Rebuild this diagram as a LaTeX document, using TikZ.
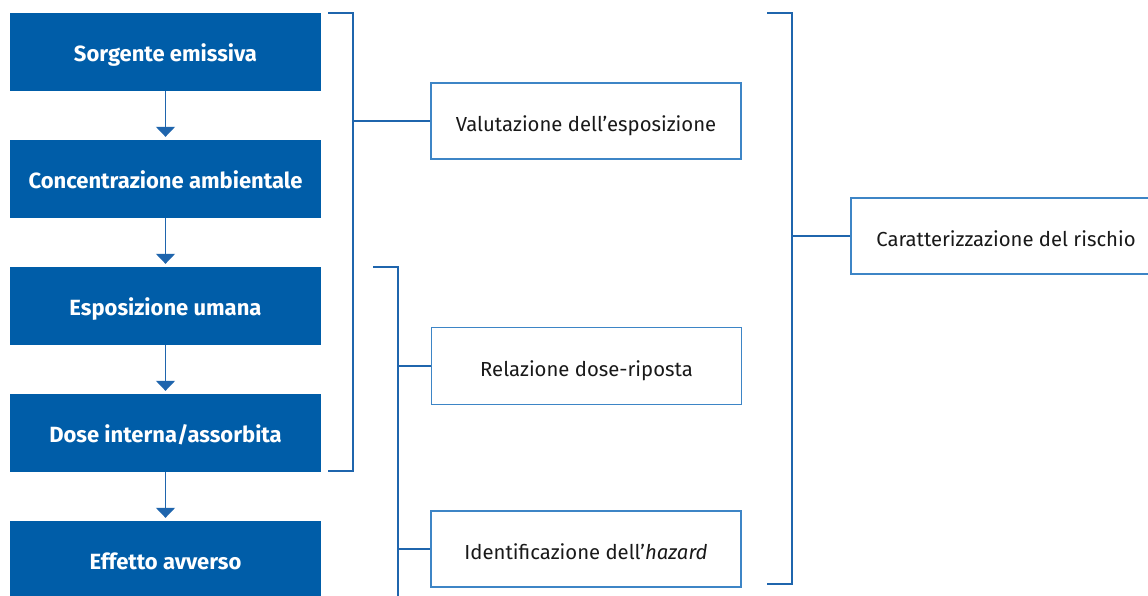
\documentclass[tikz,border=0pt]{standalone}
\usepackage{fontspec}
\setmainfont{Fira Sans}
\usetikzlibrary{arrows.meta,calc}
\definecolor{fillblue}{HTML}{005DA8}
\definecolor{lineblue}{HTML}{1F65AD}
\definecolor{edgeblue}{HTML}{3D85C6}
\tikzset{
  stepbox/.style={fill=fillblue,draw=none,minimum width=311pt,minimum height=78pt,inner sep=0pt,
    text height=18pt,text depth=0pt,
    text=white,font=\fontsize{22}{26}\selectfont\bfseries},
  labelbox/.style={draw=edgeblue,line width=1.4pt,fill=white,minimum width=310pt,minimum height=76pt,inner sep=0pt,
    text height=20pt,text depth=0pt,
    font=\fontsize{20.3}{24}\selectfont,text=black!90},
  flow/.style={draw=lineblue,line width=1.3pt,-{Triangle[width=19pt,length=10pt]}},
  brack/.style={draw=lineblue,line width=1.3pt}
}
\begin{document}
\begin{tikzpicture}[x=1pt,y=-1pt]
\clip (0,0) rectangle (1148,595);
\fill[white] (0,0) rectangle (1148,595);
% left chain
\node[stepbox] (s1) at (165.5,52) {Sorgente emissiva};
\node[stepbox] (s2) at (165.5,179) {Concentrazione ambientale};
\node[stepbox] (s3) at (165.5,306) {Esposizione umana};
\node[stepbox] (s4) at (165.5,433) {Dose interna/assorbita};
\node[stepbox] (s5) at (165.5,560) {Effetto avverso};
\draw[flow] (s1.south) -- ([yshift=3pt]s2.north);
\draw[flow] (s2.south) -- ([yshift=3pt]s3.north);
\draw[flow] (s3.south) -- ([yshift=3pt]s4.north);
\draw[flow] (s4.south) -- ([yshift=3pt]s5.north);
% right boxes
\node[labelbox] (val) at (586,121) {Valutazione dell’esposizione};
\node[labelbox,minimum height=77pt] (rel) at (586.5,366) {Relazione dose-riposta};
\node[labelbox] (idf) at (586,549) {Identificazione dell’\textit{hazard}};
\node[labelbox] (car) at (1006,236) {Caratterizzazione del rischio};
% bracket 1
\coordinate (b1a) at (328,13);
\coordinate (b1b) at (353,13);
\coordinate (b1c) at (353,471);
\coordinate (b1d) at (328,471);
\coordinate (b1m) at (353,121);
\draw[brack] (b1a) -- (b1b) -- (b1c) -- (b1d);
\draw[brack] (b1m) -- (val.west);
% bracket 2
\coordinate (b2a) at (373,267);
\coordinate (b2b) at (398,267);
\coordinate (b2c) at (398,600);
\coordinate (b2m) at (398,366);
\coordinate (b2n) at (398,549);
\draw[brack] (b2a) -- (b2b) -- (b2c);
\draw[brack] (b2m) -- (rel.west);
\draw[brack] (b2n) -- (idf.west);
% bracket 3
\coordinate (b3a) at (767,13);
\coordinate (b3b) at (792,13);
\coordinate (b3c) at (792,584);
\coordinate (b3d) at (767,584);
\coordinate (b3m) at (792,236);
\draw[brack] (b3a) -- (b3b) -- (b3c) -- (b3d);
\draw[brack] (b3m) -- (car.west);
\end{tikzpicture}
\end{document}
